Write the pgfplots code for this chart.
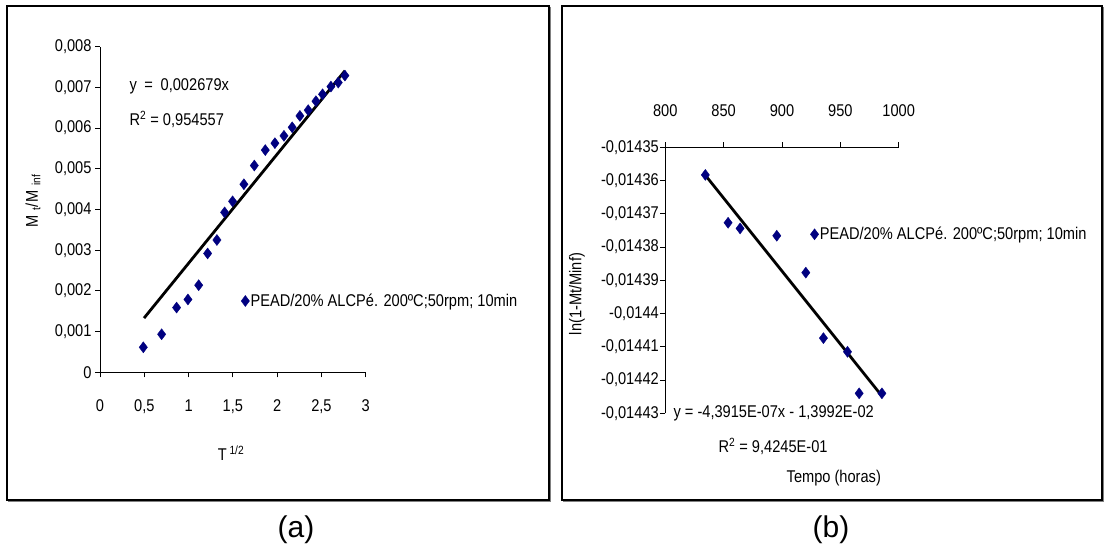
\documentclass[border=0pt]{standalone}
\usepackage{fontspec}
\setmainfont{Liberation Sans}[FakeStretch=0.86]
\newfontfamily\plainfont{Liberation Sans}
\usepackage{pgfplots}
\pgfplotsset{compat=1.18}
\definecolor{navy}{RGB}{0,0,128}

\pgfplotstableread{
x y
0.489 0.000614
0.696 0.000934
0.865 0.00159
0.993 0.00179
1.114 0.00214
1.215 0.00292
1.320 0.00325
1.407 0.00393
1.497 0.00420
1.625 0.00462
1.742 0.00508
1.866 0.00546
1.975 0.00563
2.077 0.00581
2.170 0.00602
2.257 0.00630
2.351 0.00644
2.438 0.00666
2.513 0.00683
2.607 0.00702
2.690 0.00712
2.765 0.00729
}\dataA

\pgfplotstableread{
x y
834.3 -0.0143583
853.8 -0.0143727
864.1 -0.0143744
895.5 -0.0143766
920.4 -0.0143877
935.5 -0.0144074
956.1 -0.0144115
966.1 -0.0144240
985.6 -0.0144240
}\dataB

\begin{document}
\begin{tikzpicture}[font=\fontsize{17}{20}\selectfont]
\path[use as bounding box] (0pt,0pt) rectangle (1105pt,546pt);

% frames
\draw[line width=1.5pt] (7pt,46pt) rectangle (549pt,540pt);
\draw[gray,line width=1.2pt] (550.6pt,539pt) -- (550.6pt,44.4pt) -- (8pt,44.4pt);
\draw[line width=1.5pt] (562pt,46pt) rectangle (1102pt,540pt);
\draw[gray,line width=1.2pt] (1103.6pt,539pt) -- (1103.6pt,44.4pt) -- (563pt,44.4pt);

\pgfplotsset{
  every axis/.append style={
    scale only axis, clip=false, scaled ticks=false,
    tick align=outside, major tick length=5pt,
    tick style={black, line width=0.9pt},
    axis line style={black, line width=0.9pt},
    tick label style={font=\fontsize{17}{20}\selectfont},
    legend style={draw=none, fill=none, inner sep=0pt, nodes={inner sep=0pt},
      font=\fontsize{17}{20}\selectfont},
    legend image code/.code={\draw[mark repeat=2,mark phase=2] plot coordinates {(0pt,0pt)(4pt,0pt)(8pt,0pt)}; \path (9pt,0pt);},
  }
}

% ---------------- (a)
\begin{axis}[
  at={(100pt,173.7pt)}, anchor=south west,
  width=265.7pt, height=325.6pt,
  xmin=0, xmax=3, ymin=0, ymax=0.008,
  axis x line*=bottom, axis y line*=left,
  xtick={0,0.5,1,1.5,2,2.5,3},
  xticklabels={0,{0,5},1,{1,5},2,{2,5},3},
  ytick={0,0.001,0.002,0.003,0.004,0.005,0.006,0.007,0.008},
  yticklabels={0,{0,001},{0,002},{0,003},{0,004},{0,005},{0,006},{0,007},{0,008}},
  xticklabel style={yshift=-19pt},
  legend style={at={(0.5307,0.219)}, anchor=west},
]
\addplot[only marks, mark=diamond*, mark size=5.5pt, color=navy] table {\dataA};
\addlegendentry{PEAD/20\% ALCPé. 200ºC;50rpm; 10min}
\addplot[black, line width=2.8pt, forget plot] coordinates {(0.497,0.0013315) (2.765,0.0074074)};
\end{axis}

\node[anchor=west] at (126pt,459.3pt) {y\hspace{0.45em}=\hspace{0.45em}0,002679x};
\node[anchor=west] at (126pt,426.7pt) {R\textsuperscript{2} = 0,954557};
\node[rotate=90] at (33pt,345pt) {M\hspace{0.3em}\textsubscript{t}/M\hspace{0.3em}\textsubscript{inf}};
\node at (231pt,93pt) {T\,\textsuperscript{1/2}};
\node[font=\plainfont\fontsize{30}{32}\selectfont] at (296pt,16pt) {(a)};

% ---------------- (b)
\begin{axis}[
  at={(665.3pt,132.7pt)}, anchor=south west,
  width=233.4pt, height=266pt,
  xmin=800, xmax=1000, ymin=-0.01443, ymax=-0.01435,
  axis x line*=top, axis y line*=left,
  xtick={800,850,900,950,1000},
  xticklabels={800,850,900,950,1000},
  ytick={-0.01443,-0.01442,-0.01441,-0.0144,-0.01439,-0.01438,-0.01437,-0.01436,-0.01435},
  yticklabels={{-0,01443},{-0,01442},{-0,01441},{-0,0144},{-0,01439},{-0,01438},{-0,01437},{-0,01436},{-0,01435}},
  xticklabel style={yshift=22pt},
  yticklabel style={xshift=2pt},
  legend style={at={(0.621,0.673)}, anchor=west},
]
\addplot[only marks, mark=diamond*, mark size=5.5pt, color=navy] table {\dataB};
\addlegendentry{PEAD/20\% ALCPé. 200ºC;50rpm; 10min}
\addplot[black, line width=2.8pt, forget plot] coordinates {(834.3,-0.0143584) (985.6,-0.0144248)};
\end{axis}

\node[anchor=west] at (670pt,133pt) {y = -4,3915E-07x - 1,3992E-02};
\node[anchor=west] at (715pt,99.3pt) {R\textsuperscript{2} = 9,4245E-01};
\node at (833.8pt,68.3pt) {Tempo (horas)};
\node[rotate=90] at (577pt,252pt) {ln(1-Mt/Minf)};
\node[font=\plainfont\fontsize{30}{32}\selectfont] at (831pt,16pt) {(b)};
\end{tikzpicture}
\end{document}
